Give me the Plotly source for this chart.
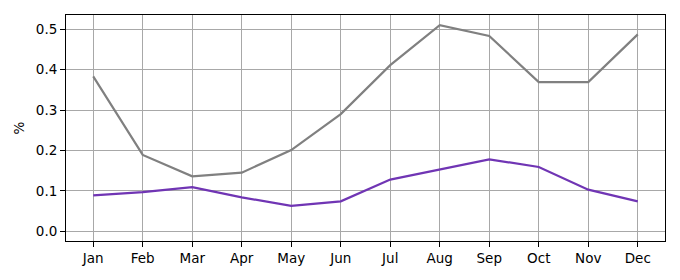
import plotly.graph_objects as go

months = ["Jan", "Feb", "Mar", "Apr", "May", "Jun", "Jul", "Aug", "Sep", "Oct", "Nov", "Dec"]
series_gray = [0.383, 0.189, 0.136, 0.145, 0.201, 0.290, 0.411, 0.510, 0.483, 0.369, 0.369, 0.487]
series_purple = [0.089, 0.097, 0.109, 0.084, 0.063, 0.074, 0.128, 0.153, 0.178, 0.159, 0.103, 0.074]
y_ticks = [0.0, 0.1, 0.2, 0.3, 0.4, 0.5]

x = list(range(len(months)))

fig = go.Figure()
fig.add_trace(go.Scatter(x=x, y=series_gray, mode="lines",
                         line=dict(color="#808080", width=2.2), showlegend=False))
fig.add_trace(go.Scatter(x=x, y=series_purple, mode="lines",
                         line=dict(color="#7035b4", width=2.2), showlegend=False))

axis_common = dict(
    showline=True, linecolor="black", linewidth=1, mirror=True,
    ticks="outside", ticklen=5, tickcolor="black", tickwidth=1,
    showgrid=True, gridcolor="#a8a8a8", gridwidth=1, zeroline=False,
    tickfont=dict(family="DejaVu Sans", size=13.5, color="black"),
)

fig.update_layout(
    width=680, height=280,
    margin=dict(l=66, r=15, t=15, b=39),
    paper_bgcolor="white", plot_bgcolor="white",
    xaxis=dict(tickmode="array", tickvals=x, ticktext=months,
               range=[-0.55, 11.55], **axis_common),
    yaxis=dict(tickmode="array", tickvals=y_ticks,
               ticktext=[f"{v:.1f}" for v in y_ticks],
               range=[-0.024, 0.535],
               title=dict(text="%", font=dict(family="DejaVu Sans", size=13.5, color="black"), standoff=8),
               **axis_common),
)

fig.write_html("out.html")
